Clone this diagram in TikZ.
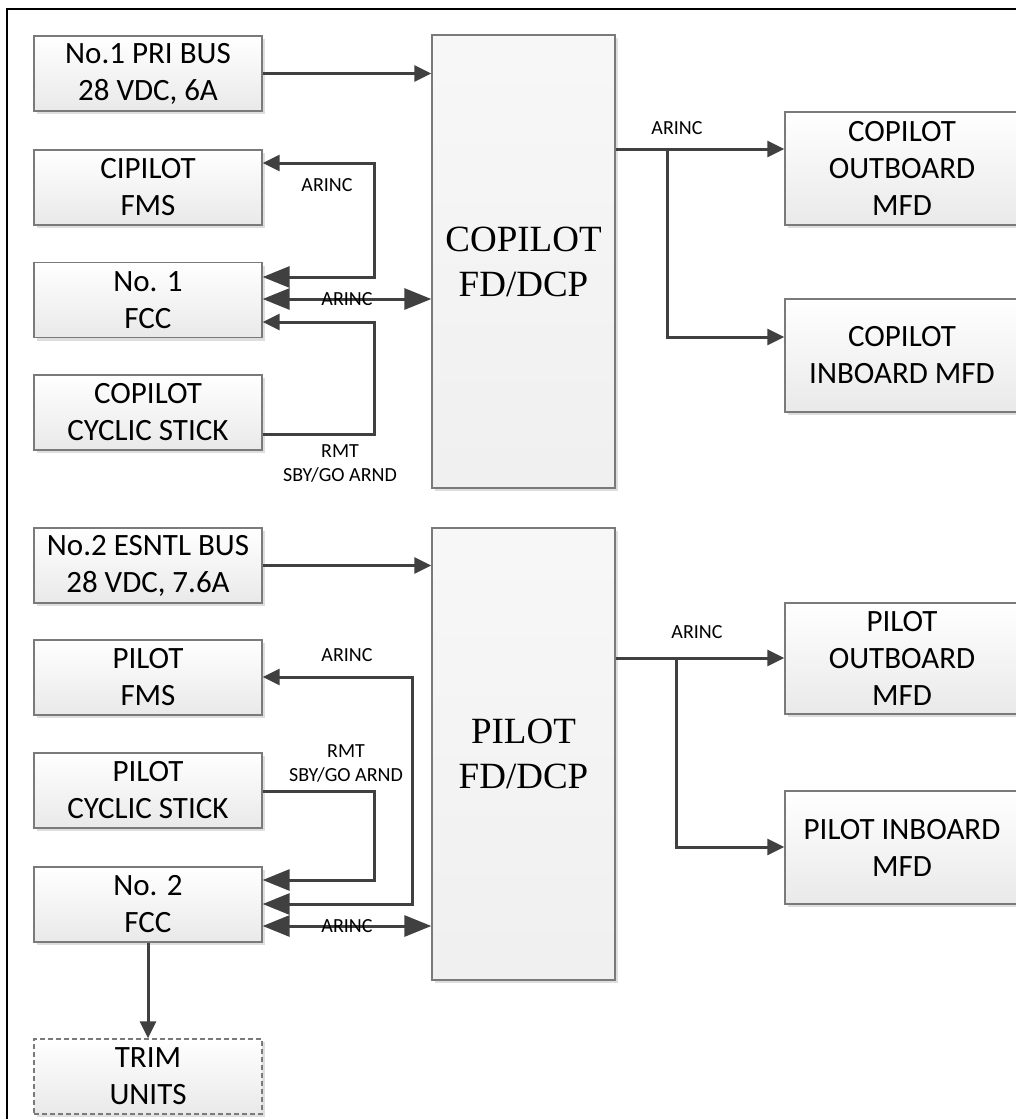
\documentclass[tikz,border=0pt]{standalone}
\usepackage{fontspec}
\setmainfont{Carlito}
\newfontfamily\timesf{Liberation Serif}
\usetikzlibrary{arrows.meta,shadows}
\definecolor{boxline}{HTML}{7A7A7A}
\definecolor{boxbot}{HTML}{E9E9E9}
\definecolor{shadowc}{HTML}{DEDEDE}
\definecolor{linec}{HTML}{404040}
\tikzset{
  tipS/.tip={Triangle[length=17pt,width=16pt]},
  tipL/.tip={Triangle[length=27pt,width=21pt]},
  box/.style={draw=boxline, line width=1.3pt, top color=white, bottom color=boxbot,
    minimum width=228pt, minimum height=75pt, inner sep=0pt, align=center,
    font=\fontsize{31}{37}\selectfont,
    drop shadow={shadow xshift=3pt, shadow yshift=-3pt, fill=shadowc, opacity=1}},
  rbox/.style={box, minimum width=234pt, minimum height=113pt},
  fdbox/.style={box, top color=white!97!black, bottom color=white!94!black,
    minimum width=183pt, minimum height=453pt, font=\timesf\fontsize{37}{45}\selectfont},
  dbox/.style={box, dashed, dash pattern=on 5pt off 3pt},
  conn/.style={draw=linec, line width=3pt},
  lbl/.style={font=\fontsize{20}{24}\selectfont, align=center, inner sep=0pt},
}
\begin{document}
\begin{tikzpicture}[x=1pt,y=-1pt]
\useasboundingbox (0,0) rectangle (1016,1119);
\fill[white] (0,0) rectangle (1016,1119);
% frame
\draw[line width=2.6pt] (7,1130) -- (7,9) -- (1030,9);

% left column, copilot
\node[box] (bus1) at (148,73.5) {No.1 PRI BUS\\28 VDC, 6A};
\node[box] (fms1) at (148,187.5) {CIPILOT\\FMS};
\node[box] (fcc1) at (148,300) {No. 1\\FCC};
\node[box] (stick1) at (148,412.5) {COPILOT\\CYCLIC STICK};
% left column, pilot
\node[box] (bus2) at (148,565.5) {No.2 ESNTL BUS\\28 VDC, 7.6A};
\node[box] (fms2) at (148,677.5) {PILOT\\FMS};
\node[box] (stick2) at (148,790.5) {PILOT\\CYCLIC STICK};
\node[box] (fcc2) at (148,904.5) {No. 2\\FCC};
\node[dbox] (trim) at (148,1076.5) {TRIM\\UNITS};

% FD/DCP
\node[fdbox] (fd1) at (523.5,261.5) {COPILOT\\FD/DCP};
\node[fdbox, minimum height=452pt] (fd2) at (523.5,754) {PILOT\\FD/DCP};

% right column
\node[rbox] (out1) at (902,168.5) {COPILOT\\OUTBOARD\\MFD};
\node[rbox] (in1) at (902,355.5) {COPILOT\\INBOARD MFD};
\node[rbox, minimum height=111pt] (out2) at (902,658.5) {PILOT\\OUTBOARD\\MFD};
\node[rbox] (in2) at (902,847.5) {PILOT INBOARD\\MFD};

% copilot connectors
\draw[conn,-tipS] (bus1.east) -- (bus1.east -| fd1.west);
\coordinate (c1) at (374,163);
\coordinate (c2) at (374,277);
\draw[conn,tipS-tipL] (fms1.east |- c1) -- (c1) -- (c2) -- (fcc1.east |- c2);
\node[lbl] (l1) at (327,185) {ARINC};
\coordinate (c3) at (0,299);
\draw[conn,tipL-tipL] (fcc1.east |- c3) -- (fd1.west |- c3) node[lbl, midway] (l2) {ARINC};
\coordinate (c4) at (374,434);
\coordinate (c5) at (374,322);
\draw[conn,-tipS] (stick1.east |- c4) -- (c4) -- (c5) -- (fcc1.east |- c5);
\node[lbl] (l3) at (340,464) {RMT\\SBY/GO ARND};
\coordinate (c6) at (667,149);
\coordinate (c7) at (667,337);
\draw[conn,-tipS] (fd1.east |- c6) -- (out1.west |- c6);
\draw[conn,-tipS] (c6) -- (c7) -- (in1.west |- c7);
\node[lbl] (l4) at (677,128) {ARINC};

% pilot connectors
\draw[conn,-tipS] (bus2.east) -- (bus2.east -| fd2.west);
\coordinate (p1) at (412,677);
\coordinate (p2) at (412,904);
\draw[conn,tipS-tipL] (fms2.east |- p1) -- (p1) -- (p2) -- (fcc2.east |- p2);
\node[lbl] (l5) at (347,655) {ARINC};
\coordinate (p3) at (374,791);
\coordinate (p4) at (374,880);
\draw[conn,-tipL] (stick2.east |- p3) -- (p3) -- (p4) -- (fcc2.east |- p4);
\node[lbl] (l6) at (346,763) {RMT\\SBY/GO ARND};
\coordinate (p5) at (0,926);
\draw[conn,tipL-tipL] (fcc2.east |- p5) -- (fd2.west |- p5) node[lbl, midway] (l7) {ARINC};
\coordinate (p6) at (676,658);
\coordinate (p7) at (676,847);
\draw[conn,-tipS] (fd2.east |- p6) -- (out2.west |- p6);
\draw[conn,-tipS] (p6) -- (p7) -- (in2.west |- p7);
\node[lbl] (l8) at (697,632) {ARINC};
\draw[conn,-tipS] (fcc2.south) -- (trim.north);
\end{tikzpicture}
\end{document}
